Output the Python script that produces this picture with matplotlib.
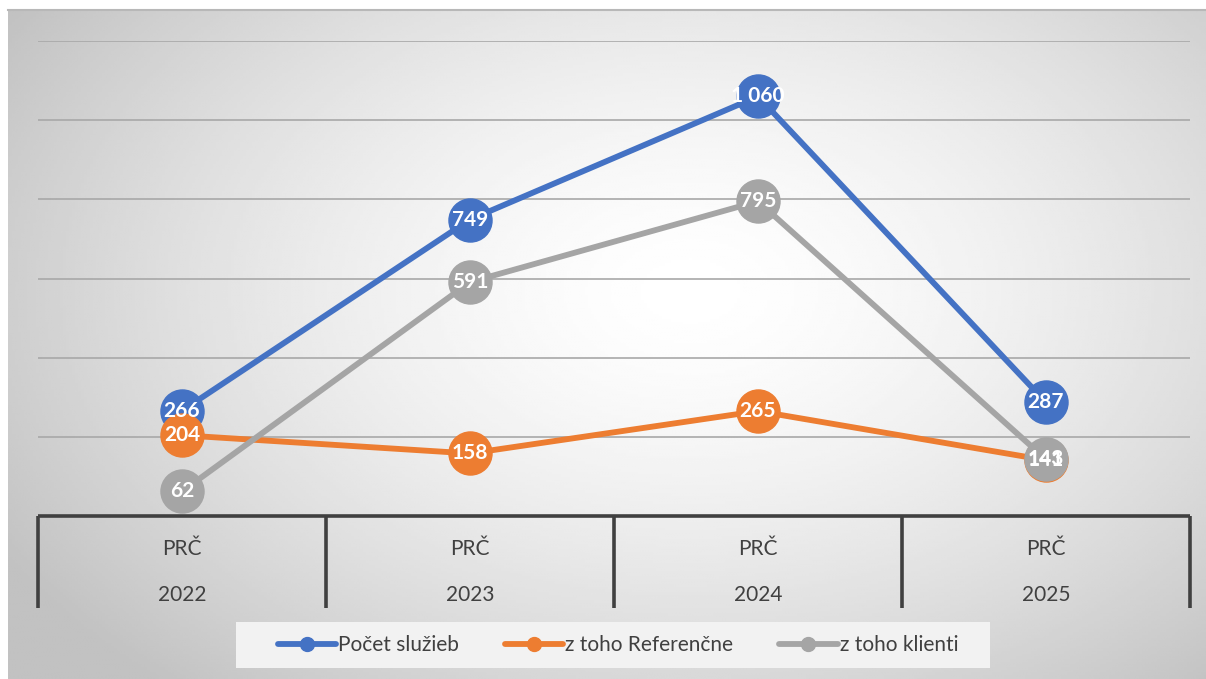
import numpy as np
import matplotlib.pyplot as plt
from matplotlib.lines import Line2D
from matplotlib.patches import Rectangle

plt.rcParams['font.family'] = ['Lato', 'DejaVu Sans']

# ============================================================
#  Donnees
# ============================================================
kategorie = ['PRČ', 'PRČ', 'PRČ', 'PRČ']
roky = ['2022', '2023', '2024', '2025']
pocet_sluzieb = [266, 749, 1060, 287]
referencne = [204, 158, 265, 141]
klienti = [62, 591, 795, 143]

serie = [
    ('Počet služieb', pocet_sluzieb, '#4472C4'),
    ('z toho Referenčne', referencne, '#ED7D31'),
    ('z toho klienti', klienti, '#A5A5A5'),
]
text_farba = '#404040'

W, H = 1206, 679
fig = plt.figure(figsize=(W / 100, H / 100), dpi=100)

# ============================================================
#  Pozadie (radialny gradient)
# ============================================================
bg = fig.add_axes([8 / W, 0, 1 - 8 / W, 669 / H])
bg.set_zorder(-1)
bg.axis('off')
u, v = np.meshgrid(np.linspace(0, 1, 400), np.linspace(0, 1, 250))
r = np.sqrt(((u - 0.57) / 0.55) ** 2 + ((v - 0.42) / 0.65) ** 2)
g = np.clip(1 - 0.18 * r ** 1.5, 0.76, 1)
bg.imshow(g, cmap='gray', vmin=0, vmax=1, aspect='auto',
          extent=[0, 1, 0, 1], origin='upper', interpolation='bilinear')
fig.add_artist(Line2D([8 / W, 1], [669 / H, 669 / H], color='#b8b8b8', lw=1.5))

# ============================================================
#  Graf
# ============================================================
ax = fig.add_axes([38 / W, 1 - 516 / H, 1152 / W, 475 / H])
ax.set_zorder(1)
ax.patch.set_alpha(0)
x = np.arange(len(roky))
ax.set_xlim(-0.5, len(roky) - 0.5)
ax.set_ylim(0, 1200)
ax.set_yticks(np.arange(200, 1201, 200))
ax.set_yticklabels([])
ax.set_xticks([])
ax.tick_params(left=False)
ax.yaxis.grid(True, color='#a8a8a8', lw=1.2)
ax.set_axisbelow(True)
for s in ax.spines.values():
    s.set_visible(False)

for i, (nazov, hodnoty, farba) in enumerate(serie):
    ax.plot(x, hodnoty, color=farba, lw=4.2, marker='o', markersize=31,
            solid_capstyle='round', zorder=3 + i, clip_on=False)
    for xi, val in zip(x, hodnoty):
        ax.text(xi, val, f"{val:,}".replace(',', ' '), ha='center', va='center',
                color='white', fontsize=15, fontweight='bold', zorder=10)

# viacurovnova os kategorii
px = 1200 / 475  # jednotky na pixel
hranice = np.arange(len(roky) + 1) - 0.5
ax.plot([hranice[0], hranice[-1]], [0, 0], color=text_farba, lw=2.6,
        clip_on=False, zorder=2, solid_capstyle='butt')
for hx in hranice:
    ax.plot([hx, hx], [0, -92 * px], color=text_farba, lw=2.6,
            clip_on=False, zorder=2, solid_capstyle='butt')
for xi, kat, rok in zip(x, kategorie, roky):
    ax.text(xi, -33 * px, kat, ha='center', va='center', color=text_farba, fontsize=15)
    ax.text(xi, -79 * px, rok, ha='center', va='center', color=text_farba, fontsize=15)

# ============================================================
#  Legenda
# ============================================================
fig.add_artist(Rectangle((236 / W, 1 - 668 / H), 754 / W, 46 / H,
                         transform=fig.transFigure, fc='#f2f2f2', ec='none', zorder=0.5))
handles = [Line2D([], [], color=f, lw=4.2, marker='o', markersize=10,
                  solid_capstyle='round') for _, _, f in serie]
fig.legend(handles, [n for n, _, _ in serie], loc='center',
           bbox_to_anchor=(618 / W, 1 - 645 / H), ncol=3, frameon=False,
           fontsize=15, handlelength=2.8, handletextpad=0.1, columnspacing=2.2,
           labelcolor=text_farba)

plt.savefig('out.png', dpi=100)
